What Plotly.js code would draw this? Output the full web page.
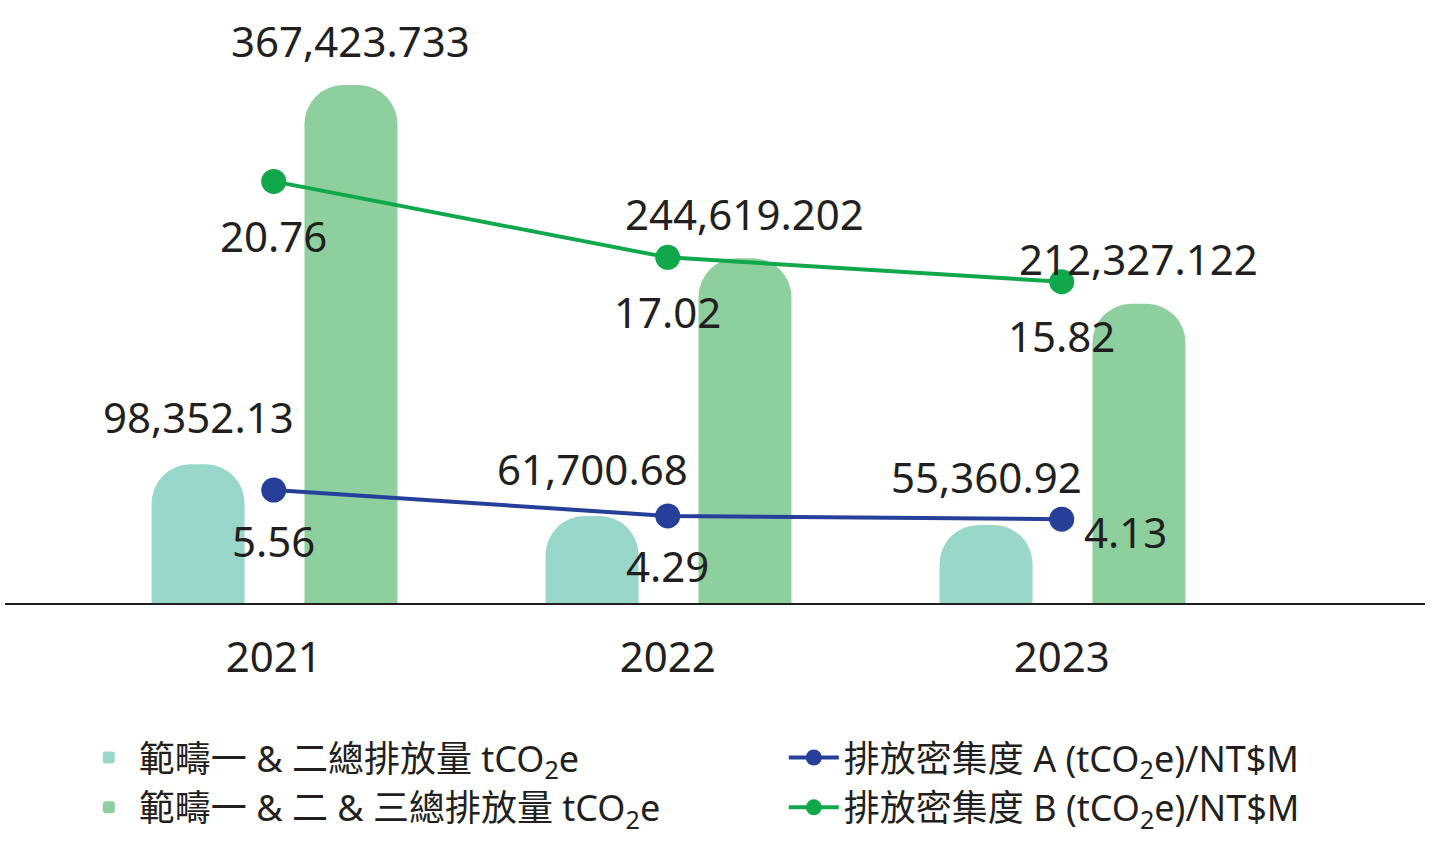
<!DOCTYPE html>
<html>
<head>
<meta charset="utf-8">
<script src="https://cdn.plot.ly/plotly-3.0.1.min.js"></script>
<style>
  html, body { margin: 0; padding: 0; background: #fff; }
  #plot { width: 1433px; height: 854px; }
</style>
</head>
<body>
<div id="plot"></div>
<script>
const years = ["2021", "2022", "2023"];

const scope12 = [98352.13, 61700.68, 55360.92];
const scope123 = [367423.733, 244619.202, 212327.122];
const intensityA = [5.56, 4.29, 4.13];
const intensityB = [20.76, 17.02, 15.82];

const scope12Labels = ["98,352.13", "61,700.68", "55,360.92"];
const scope123Labels = ["367,423.733", "244,619.202", "212,327.122"];

const names = [
  "範疇一 & 二總排放量 tCO<sub>2</sub>e",
  "範疇一 & 二 & 三總排放量 tCO<sub>2</sub>e",
  "排放密集度 A (tCO<sub>2</sub>e)/NT$M",
  "排放密集度 B (tCO<sub>2</sub>e)/NT$M"
];

const FONT = "'Noto Sans', 'Noto Sans CJK TC', sans-serif";
const TEXT = "#231f20";
const TEAL = "#98d7ca";
const GREEN = "#8dcf9d";
const BLUE = "#26409a";
const LGREEN = "#10a84a";

const barWidth = 0.236;
const tealOffset = -0.31;
const greenOffset = 0.078;

const traces = [
  {
    type: "bar",
    name: names[0],
    legendgroup: "bars",
    x: years,
    y: scope12,
    width: barWidth,
    offset: tealOffset,
    marker: { color: TEAL, cornerradius: "42%" },
    hoverinfo: "skip"
  },
  {
    type: "bar",
    name: names[1],
    legendgroup: "bars",
    x: years,
    y: scope123,
    width: barWidth,
    offset: greenOffset,
    marker: { color: GREEN, cornerradius: "42%" },
    hoverinfo: "skip"
  },
  {
    type: "scatter",
    mode: "lines+markers",
    name: names[2],
    legendgroup: "lines",
    x: years,
    y: intensityA,
    yaxis: "y2",
    line: { color: BLUE, width: 4 },
    marker: { color: BLUE, size: 25 },
    hoverinfo: "skip"
  },
  {
    type: "scatter",
    mode: "lines+markers",
    name: names[3],
    legendgroup: "lines",
    x: years,
    y: intensityB,
    yaxis: "y2",
    line: { color: LGREEN, width: 4 },
    marker: { color: LGREEN, size: 25 },
    hoverinfo: "skip"
  }
];

const labelFont = { family: FONT, size: 42, color: TEXT };
const annotations = [];

// value labels above the bars
years.forEach((yr, i) => {
  annotations.push({
    x: i + tealOffset + barWidth / 2,
    y: scope12[i],
    text: scope12Labels[i],
    showarrow: false,
    yanchor: "middle",
    yshift: 48,
    font: labelFont
  });
  annotations.push({
    x: i + greenOffset + barWidth / 2,
    y: scope123[i],
    text: scope123Labels[i],
    showarrow: false,
    yanchor: "middle",
    yshift: 45,
    font: labelFont
  });
});

// intensity labels under the points (last blue one sits to the right)
intensityB.forEach((v, i) => {
  annotations.push({
    x: i,
    y: v,
    yref: "y2",
    text: v.toFixed(2),
    showarrow: false,
    yanchor: "middle",
    yshift: -54,
    font: labelFont
  });
});
intensityA.forEach((v, i) => {
  const last = i === intensityA.length - 1;
  annotations.push({
    x: i,
    y: v,
    yref: "y2",
    text: v.toFixed(2),
    showarrow: false,
    xanchor: last ? "left" : "center",
    yanchor: "middle",
    xshift: last ? 20 : 0,
    yshift: last ? -12 : -50,
    font: labelFont
  });
});

const layout = {
  width: 1433,
  height: 854,
  margin: { l: 5, r: 8, t: 10, b: 251 },
  paper_bgcolor: "#fff",
  plot_bgcolor: "#fff",
  font: { family: FONT, size: 34, color: TEXT },
  showlegend: true,
  legend: {
    orientation: "h",
    xref: "container",
    yref: "container",
    x: 0.055,
    y: 0.148,
    xanchor: "left",
    yanchor: "top",
    itemwidth: 50,
    entrywidth: 640,
    traceorder: "grouped",
    font: { family: FONT, size: 36, color: TEXT }
  },
  xaxis: {
    type: "category",
    range: [-0.682, 2.922],
    showline: true,
    linecolor: TEXT,
    linewidth: 2,
    showgrid: false,
    zeroline: false,
    ticks: "",
    ticklabelstandoff: 17,
    tickfont: labelFont
  },
  yaxis: {
    range: [0, 420620],
    visible: false,
    showgrid: false,
    zeroline: false
  },
  yaxis2: {
    overlaying: "y",
    side: "right",
    range: [0, 29.2],
    visible: false,
    showgrid: false,
    zeroline: false
  },
  annotations: annotations
};

Plotly.newPlot("plot", traces, layout, { displayModeBar: false, staticPlot: true });
</script>
</body>
</html>
